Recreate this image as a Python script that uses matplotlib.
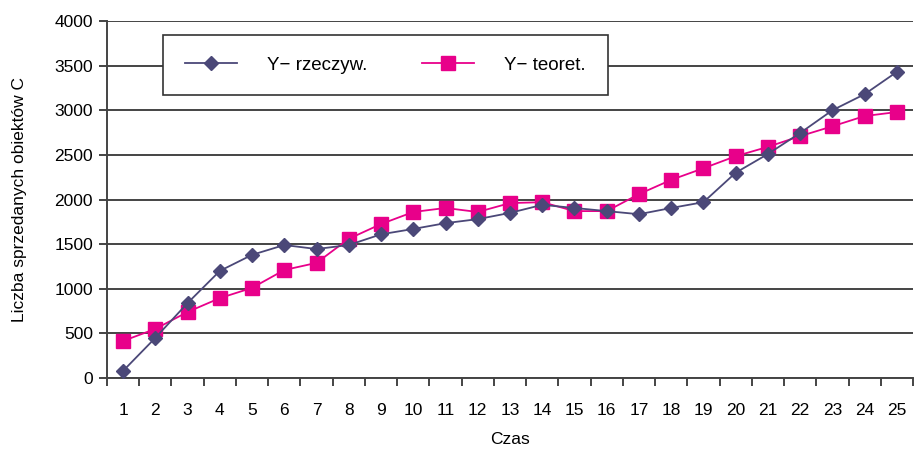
import matplotlib.pyplot as plt
import numpy as np

plt.rcParams["font.family"] = ["Liberation Sans", "DejaVu Sans"]

czas = list(range(1, 26))
y_rzeczyw = [80, 450, 840, 1200, 1380, 1490, 1445, 1490, 1610, 1670,
             1735, 1780, 1850, 1940, 1905, 1870, 1835, 1905, 1970, 2300,
             2510, 2745, 3000, 3180, 3430]
y_teoret = [415, 550, 740, 895, 1010, 1210, 1290, 1560, 1725, 1860,
            1905, 1860, 1960, 1970, 1870, 1870, 2060, 2220, 2350, 2485,
            2590, 2710, 2820, 2935, 2980]
y_ticks = [0, 500, 1000, 1500, 2000, 2500, 3000, 3500, 4000]

DARK = "#4b4878"
PINK = "#e8008a"
GRID = "#444444"


def main() -> None:
    fig = plt.figure(figsize=(9.16, 4.59), dpi=100)
    ax = fig.add_axes([107 / 916, 1 - 378 / 459, (913 - 107) / 916, (378 - 21) / 459])

    x = np.arange(len(czas))
    ax.plot(x, y_rzeczyw, color=DARK, marker="D", markersize=7.5, linewidth=1.3,
            label="Y\u2212 rzeczyw.", zorder=4)
    ax.plot(x, y_teoret, color=PINK, marker="s", markersize=10, linewidth=1.3,
            label="Y\u2212 teoret.", zorder=3)

    ax.set_xlim(-0.5, len(czas) - 0.5)
    ax.set_ylim(0, 4000)
    ax.set_yticks(y_ticks)
    ax.set_yticklabels([str(v) for v in y_ticks], fontsize=12.5)
    ax.yaxis.grid(True, color=GRID, linewidth=1.4)
    ax.set_axisbelow(True)

    # category labels centred, ticks between categories
    ax.set_xticks(x)
    ax.set_xticklabels([str(c) for c in czas], fontsize=12.5)
    ax.tick_params(axis="x", length=0, pad=18)
    ax.set_xticks(np.arange(len(czas) + 1) - 0.5, minor=True)
    ax.tick_params(axis="x", which="minor", length=6, width=1.4, color=GRID, direction="out")
    ax.tick_params(axis="y", length=6, width=1.4, color=GRID, pad=4)

    for side in ("top", "right"):
        ax.spines[side].set_visible(False)
    ax.spines["left"].set_color(GRID)
    ax.spines["left"].set_linewidth(1.4)
    ax.spines["bottom"].set_color(GRID)
    ax.spines["bottom"].set_linewidth(1.4)

    ax.set_ylabel("Liczba sprzedanych obiektów C", fontsize=12.5, labelpad=20)
    ax.set_xlabel("Czas", fontsize=12.5, labelpad=10)

    leg = ax.legend(loc="upper left", bbox_to_anchor=((163 - 107) / 806, 1 - (35 - 21) / 357),
                    ncol=2, fontsize=13.5, frameon=True, fancybox=False, handlelength=2.8,
                    columnspacing=2.9, handletextpad=1.6, borderpad=1.15, borderaxespad=0)
    leg.get_frame().set_edgecolor("#333333")
    leg.get_frame().set_linewidth(1.2)
    leg.get_frame().set_alpha(1.0)

    fig.savefig("out.png", dpi=100)
    plt.close(fig)


if __name__ == "__main__":
    main()
